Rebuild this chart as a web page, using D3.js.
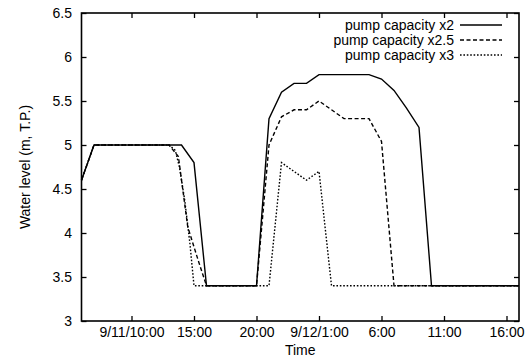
<!DOCTYPE html>
<html>
<head>
<meta charset="utf-8">
<script src="https://cdn.jsdelivr.net/npm/d3@7"></script>
<style>
  body { margin: 0; background: #fff; }
  svg { display: block; font-family: "Liberation Sans", Arial, sans-serif; }
</style>
</head>
<body>
<div id="chart"></div>
<script>
"use strict";

// Time stamps (month/day hour:minute) and water levels
const x2Times = ["9/11 6:00", "9/11 7:00", "9/11 14:00", "9/11 15:00", "9/11 16:00", "9/11 20:00",
    "9/11 21:00", "9/11 22:00", "9/11 23:00", "9/12 0:00", "9/12 1:00", "9/12 5:00", "9/12 6:00",
    "9/12 7:00", "9/12 8:00", "9/12 9:00", "9/12 10:00", "9/12 17:00"];
const x2Values = [4.6, 5.0, 5.0, 4.8, 3.4, 3.4,
    5.3, 5.6, 5.7, 5.7, 5.8, 5.8, 5.75,
    5.62, 5.42, 5.2, 3.4, 3.4];

const x25Times = ["9/11 6:00", "9/11 7:00", "9/11 13:00", "9/11 13:45", "9/11 14:30", "9/11 15:20",
    "9/11 16:00", "9/11 20:00", "9/11 21:00", "9/11 22:00", "9/11 23:00", "9/12 0:00", "9/12 1:00",
    "9/12 2:00", "9/12 3:00", "9/12 5:00", "9/12 6:00", "9/12 7:00", "9/12 17:00"];
const x25Values = [4.6, 5.0, 5.0, 4.87, 4.07, 3.69,
    3.4, 3.4, 5.0, 5.32, 5.4, 5.4, 5.5,
    5.4, 5.3, 5.3, 5.04, 3.4, 3.4];

const x3Times = ["9/11 6:00", "9/11 7:00", "9/11 13:00", "9/11 13:30", "9/11 13:50", "9/11 14:15",
    "9/11 14:40", "9/11 15:00", "9/11 21:00", "9/11 22:00", "9/11 23:00", "9/12 0:00", "9/12 1:00",
    "9/12 2:00", "9/12 17:00"];
const x3Values = [4.6, 5.0, 5.0, 4.94, 4.75, 4.38,
    3.89, 3.4, 3.4, 4.8, 4.7, 4.6, 4.7,
    3.4, 3.4];

const seriesNames = ["pump capacity x2", "pump capacity x2.5", "pump capacity x3"];

const xTickTimes = ["9/11 10:00", "9/11 15:00", "9/11 20:00", "9/12 1:00", "9/12 6:00", "9/12 11:00", "9/12 16:00"];
const xTickLabels = ["9/11/10:00", "15:00", "20:00", "9/12/1:00", "6:00", "11:00", "16:00"];
const yTicks = [3, 3.5, 4, 4.5, 5, 5.5, 6, 6.5];

const parseTime = d3.timeParse("%m/%d %H:%M");

const graphInfo = {
    width: 530,
    height: 357,
    marginLeft: 81.5,
    marginRight: 11,
    marginTop: 13,
    marginBottom: 36,
    tickSize: 5,
    fontSize: 14
};

const svg = d3.select("#chart").append("svg")
    .attr("width", graphInfo.width)
    .attr("height", graphInfo.height);

const plotLeft = graphInfo.marginLeft, plotRight = graphInfo.width - graphInfo.marginRight;
const plotTop = graphInfo.marginTop, plotBottom = graphInfo.height - graphInfo.marginBottom;

const xScale = d3.scaleTime()
    .domain([parseTime("9/11 6:00"), parseTime("9/12 17:00")])
    .range([plotLeft, plotRight]);

const yScale = d3.scaleLinear()
    .domain([3, 6.5])
    .range([plotBottom, plotTop]);

function MakeSeries(times, values) {
    return times.map((t, i) => ({ x: parseTime(t), y: values[i] }));
}

const series = [
    { name: seriesNames[0], data: MakeSeries(x2Times, x2Values), dash: null },
    { name: seriesNames[1], data: MakeSeries(x25Times, x25Values), dash: "4,2.5" },
    { name: seriesNames[2], data: MakeSeries(x3Times, x3Values), dash: "1.6,1.8" }
];

const line = d3.line()
    .x(d => xScale(d.x))
    .y(d => yScale(d.y));

// Axes: ticks point inward, mirrored on top and right like gnuplot
const tickDates = xTickTimes.map(parseTime);
const labelFor = new Map(tickDates.map((d, i) => [+d, xTickLabels[i]]));

svg.append("g")
    .attr("transform", `translate(0,${plotBottom})`)
    .call(d3.axisBottom(xScale).tickValues(tickDates).tickSizeInner(-graphInfo.tickSize).tickSizeOuter(0)
        .tickPadding(6).tickFormat(d => labelFor.get(+d)))
    .call(g => g.select(".domain").remove())
    .call(g => g.selectAll("text").attr("font-size", graphInfo.fontSize).attr("fill", "#000"));

svg.append("g")
    .attr("transform", `translate(0,${plotTop})`)
    .call(d3.axisTop(xScale).tickValues(tickDates).tickSizeInner(-graphInfo.tickSize).tickSizeOuter(0).tickFormat(""))
    .call(g => g.select(".domain").remove());

svg.append("g")
    .attr("transform", `translate(${plotLeft},0)`)
    .call(d3.axisLeft(yScale).tickValues(yTicks).tickSizeInner(-graphInfo.tickSize).tickSizeOuter(0)
        .tickPadding(9.5).tickFormat(d3.format("")))
    .call(g => g.select(".domain").remove())
    .call(g => g.selectAll("text").attr("font-size", graphInfo.fontSize).attr("fill", "#000"));

svg.append("g")
    .attr("transform", `translate(${plotRight},0)`)
    .call(d3.axisRight(yScale).tickValues(yTicks).tickSizeInner(-graphInfo.tickSize).tickSizeOuter(0).tickFormat(""))
    .call(g => g.select(".domain").remove());

svg.selectAll(".tick line").attr("stroke", "#000").attr("stroke-width", 1.3);

// Plot frame
svg.append("rect")
    .attr("x", plotLeft)
    .attr("y", plotTop)
    .attr("width", plotRight - plotLeft)
    .attr("height", plotBottom - plotTop)
    .attr("fill", "none")
    .attr("stroke", "#000")
    .attr("stroke-width", 1.6);

// Axis titles
svg.append("text")
    .attr("x", (plotLeft + plotRight) / 2)
    .attr("y", 355)
    .attr("text-anchor", "middle")
    .attr("font-size", graphInfo.fontSize)
    .text("Time");

svg.append("text")
    .attr("transform", `translate(30,${(plotTop + plotBottom) / 2}) rotate(-90)`)
    .attr("text-anchor", "middle")
    .attr("font-size", graphInfo.fontSize)
    .text("Water level (m, T.P.)");

// Data lines
svg.append("g")
    .selectAll("path")
    .data(series)
    .join("path")
    .attr("fill", "none")
    .attr("stroke", "#000")
    .attr("stroke-width", 1.4)
    .attr("stroke-dasharray", d => d.dash)
    .attr("d", d => line(d.data));

// Legend in the top right corner
const legend = svg.append("g")
    .selectAll("g")
    .data(series)
    .join("g")
    .attr("transform", (d, i) => `translate(0,${25 + i * 15})`);

legend.append("text")
    .attr("x", 454)
    .attr("dy", "0.35em")
    .attr("text-anchor", "end")
    .attr("font-size", graphInfo.fontSize)
    .text(d => d.name);

legend.append("line")
    .attr("x1", 460)
    .attr("x2", 502)
    .attr("stroke", "#000")
    .attr("stroke-width", 1.4)
    .attr("stroke-dasharray", d => d.dash);
</script>
</body>
</html>
